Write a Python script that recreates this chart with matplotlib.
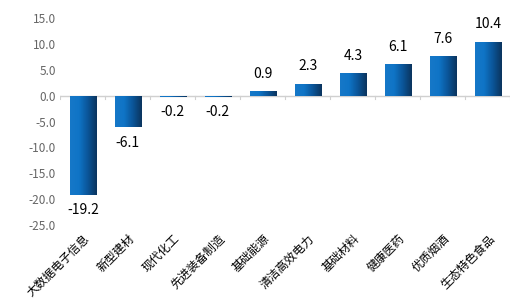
import numpy as np
from matplotlib import pyplot as plt
from matplotlib.colors import LinearSegmentedColormap

plt.rcParams['font.family'] = ['Noto Sans CJK SC', 'DejaVu Sans']

categories = ['大数据电子信息', '新型建材', '现代化工', '先进装备制造', '基础能源',
              '清洁高效电力', '基础材料', '健康医药', '优质烟酒', '生态特色食品']
values = [-19.2, -6.1, -0.2, -0.2, 0.9, 2.3, 4.3, 6.1, 7.6, 10.4]
yticks = [15, 10, 5, 0, -5, -10, -15, -20, -25]

fig = plt.figure(figsize=(5.29, 3.05), dpi=100)
ax = fig.add_axes([0.114, 0.262, 0.851, 0.679])

x = np.arange(len(values))
bars = ax.bar(x, values, width=0.58, color='#0a5fa8', zorder=2)

# gradient fill, light on the left, dark navy on the right
cmap = LinearSegmentedColormap.from_list('bar', ['#1678c8', '#0f74c6', '#0b5598', '#0a345e'])
grad = np.linspace(0, 1, 64).reshape(1, -1)
for b in bars:
    x0, y0 = b.get_x(), b.get_y()
    w, h = b.get_width(), b.get_height()
    im = ax.imshow(grad, cmap=cmap, aspect='auto', zorder=3,
                   extent=[x0, x0 + w, min(y0, y0 + h), max(y0, y0 + h)])
    im.set_clip_path(b)

for xi, v in zip(x, values):
    if v >= 0:
        ax.text(xi, v + 2.0, f'{v:.1f}', ha='center', va='bottom', fontsize=10, color='black')
    else:
        ax.text(xi, v - 1.6, f'{v:.1f}', ha='center', va='top', fontsize=10, color='black')

ax.set_xlim(-0.5, len(values) - 0.5)
ax.set_ylim(-25, 15)
ax.set_yticks(yticks)
ax.set_yticklabels([f'{t:.1f}' for t in yticks], fontsize=8.5, color='#666666')
ax.set_xticks(x)
ax.set_xticklabels(categories, rotation=45, ha='right', rotation_mode='anchor',
                   fontsize=8.5, color='black')
ax.tick_params(axis='both', length=0, pad=3)
ax.tick_params(axis='x', pad=5)
for s in ax.spines.values():
    s.set_visible(False)

ax.axhline(0, color='#d0d0d0', lw=1, zorder=1)
for b in np.arange(-0.5, len(values), 1.0):
    ax.plot([b, b], [0, -0.6], color='#d0d0d0', lw=0.8, zorder=1)

fig.savefig('out.png', dpi=100)
